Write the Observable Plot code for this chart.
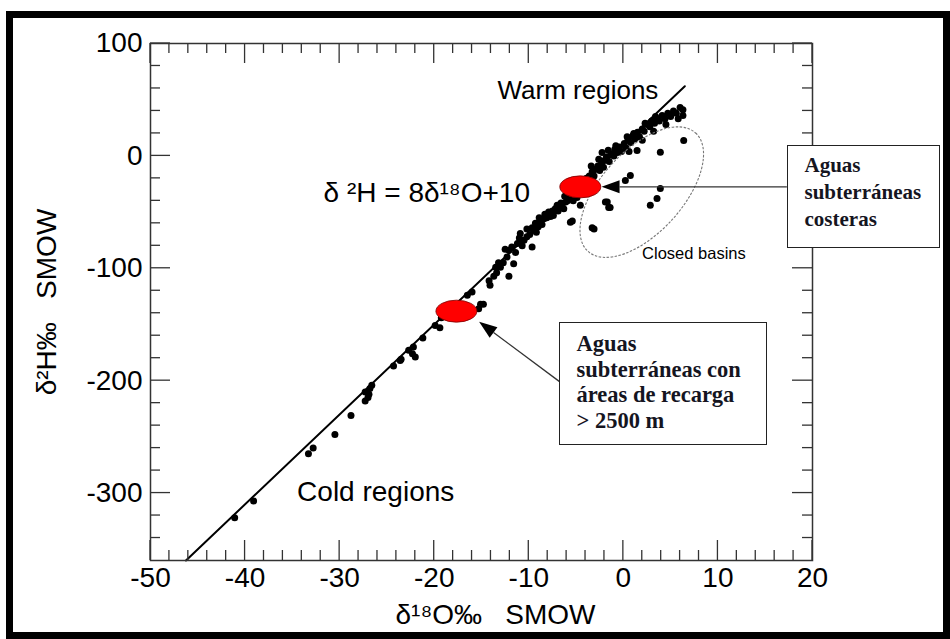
<!DOCTYPE html>
<html><head><meta charset="utf-8">
<script src="https://cdn.jsdelivr.net/npm/d3@7"></script>
<script src="https://cdn.jsdelivr.net/npm/@observablehq/plot@0.6"></script>
<style>
html,body{margin:0;padding:0;background:#fff;}
#wrap{position:relative;width:950px;height:639px;overflow:hidden;background:#fff;}
#wrap svg{position:absolute;left:0;top:0;}
.border{position:absolute;left:6px;top:11px;width:944px;height:628px;box-sizing:border-box;border:7px solid #000;pointer-events:none;}
.box{position:absolute;background:#fff;border:1.5px solid #222;box-sizing:border-box;font-family:"Liberation Serif","Times New Roman",serif;font-weight:bold;color:#15151f;white-space:nowrap;}
</style></head><body><div id="wrap"></div>
<script>
// ---- data (δ18O ‰, δ2H ‰ SMOW) ----
const d18O = [
  -41.1,-39.1,-33.3,-32.8,-30.5,-28.8,-27.3,-27.3,-26.8,-26.9,-26.6,-27.0,-24.3,-23.5,-22.7,-22.0,-21.2,-19.9,-19.4,
  -23.6,-22.3,-22.2,-19.25,-16.5,-16.0,-15.1,-14.8,-15.3,-14.2,-14.1,-13.7,-13.4,-13.0,-13.5,-13.2,-12.7,-12.3,-11.6,-12.1,
  -12.1,-12.5,-11.8,-11.4,-11.2,-10.9,-10.7,-10.5,-10.2,-9.65,-10.9,-10.2,-9.9,-9.65,-9.5,-9.3,-9.2,-9.0,-8.9,-8.8,-8.6,
  -8.4,-8.1,-8.0,-7.9,-7.7,-7.5,-7.4,-7.2,-7.0,-6.9,-6.8,-6.6,-6.5,-6.3,-6.1,-5.9,-5.8,-5.6,-5.3,-4.9,
  -4.55,-5.4,-5.6,-3.3,-3.1,-1.9,-1.7,-1.55,-1.4,0.21,0.74,1.45,2.85,3.56,3.91,3.91,6.38,
  -4.2,-3.9,-3.6,-3.8,-3.3,-3.0,-3.1,-2.7,-2.5,-2.3,-2.25,-2.1,-2.0,-1.8,-1.5,-1.3,-1.0,-0.9,-0.6,-0.4,-0.2,
  0.1,0.3,0.5,0.6,0.8,1.0,1.2,1.5,1.7,2.0,2.0,2.2,2.5,2.8,3.0,3.2,3.3,3.6,3.8,4.1,4.4,4.5,4.7,5.0,5.3,5.6,5.8,6.0,6.3,6.3,
  -3.4,-2.6,-1.6,-0.8,0.4,1.1,2.3,3.4,-6.2,-8.3,-11.0
];
const d2H = [
  -322,-307,-265,-260,-248,-231,-218,-210,-207,-212,-204,-215,-187,-181,-173,-179,-162,-151,-153,
  -182,-176,-170,-144,-124,-121,-132,-132,-136,-111,-115,-107,-104,-99,-99,-95,-95,-90,-96,-84,
  -107,-83,-81,-86,-78,-75,-80,-75,-72,-81,-69,-65,-70,-64,-66,-60,-68,-63,-55,-59,-61,
  -56,-55,-52,-50,-54,-49,-53,-47,-44,-49,-46,-42,-44,-47,-41,-40,-35,-38,-40,-37,
  -44,-58,-59,-64,-65,-41,-41,-46,-46,-22,-17.5,4.7,-44,-38,-29,3.2,13.6,
  -22,-20,-18,-25,-14,-12,-18,-9,-13,-6,3,-10,-4,-1,-5,2,0,6,3,8,4,
  11,7,14,4,12,18,15,21,17,24,14,22,28,26,31,22,29,33,31,36,33,28,38,35,40,38,33,43,41,36,
  -9,-3,5,9,17,20,29,35,-36,-52,-73
];
const points = d18O.map((o, i) => ({o, h: d2H[i]}));

// Global meteoric water line δ2H = 8·δ18O + 10, drawn between these δ18O ends
const gmwlEnds = [-46.25, 6.5];
const gmwl = gmwlEnds.map(o => ({o, h: 8 * o + 10}));

// axis ticks
const xMajor = [-50,-40,-30,-20,-10,0,10,20];
const xMinor = [-48,-46,-44,-42,-38,-36,-34,-32,-28,-26,-24,-22,-18,-16,-14,-12,-8,-6,-4,-2,2,4,6,8,12,14,16,18];
const yMajor = [-300,-200,-100,0,100];
const yMinor = [-340,-320,-280,-260,-240,-220,-180,-160,-140,-120,-80,-60,-40,-20,20,40,60,80];

// annotations (data coordinates)
const redSpotO = [-4.5, -17.6];
const redSpotH = [-28, -138.6];
const arrowFromO = [17.34, -6.66], arrowFromH = [-28, -201.5];
const arrowToO = [-2.25, -15.2], arrowToH = [-28, -148.1];
const basinCenter = {o: 2.0, h: -32.7};
const warmNote = [{o: 3.7, h: 51, t: "Warm regions"}];
const coldNote = [{o: -34.5, h: -306.9, t: "Cold regions"}];
const eqNote = [{o: -31.7, h: -40.7, t: "δ ²H = 8δ¹⁸O+10"}];
const basinNote = [{o: 1.98, h: -91.4, t: "Closed basins"}];

const sans = "'Liberation Sans',Arial,Helvetica,sans-serif";
const axisStroke = "#333";

function overlay(index, scales) {
  const {x, y} = scales;
  const g = d3.create("svg:g");
  // closed basins dashed ellipse
  g.append("ellipse")
    .attr("cx", 0).attr("cy", 0).attr("rx", 80).attr("ry", 41)
    .attr("transform", `translate(${x(basinCenter.o)},${y(basinCenter.h)}) rotate(-47.7)`)
    .attr("fill", "none").attr("stroke", "#777").attr("stroke-width", 1.1)
    .attr("stroke-dasharray", "2.5,1.5");
  // red spots
  redSpotO.forEach((o, i) => {
    g.append("ellipse").attr("cx", x(o)).attr("cy", y(redSpotH[i]))
      .attr("rx", 20.5).attr("ry", 11).attr("fill", "#ff0000")
      .attr("stroke", "#7a0000").attr("stroke-width", 0.8);
  });
  // arrows with filled heads
  arrowFromO.forEach((o, i) => {
    const x1 = x(o), y1 = y(arrowFromH[i]), x2 = x(arrowToO[i]), y2 = y(arrowToH[i]);
    const a = Math.atan2(y2 - y1, x2 - x1), L = 18, W = 6.5;
    const bx = x2 - L * Math.cos(a), by = y2 - L * Math.sin(a);
    g.append("line").attr("x1", x1).attr("y1", y1).attr("x2", bx).attr("y2", by)
      .attr("stroke", "#333").attr("stroke-width", 1.3);
    const px = -Math.sin(a) * W, py = Math.cos(a) * W;
    g.append("path").attr("d", `M${x2},${y2}L${bx + px},${by + py}L${bx - px},${by - py}Z`)
      .attr("fill", "#000");
  });
  return g.node();
}

// inward ticks on all four sides, placed with the plot's x / y scales
function inwardTicks(index, scales, values, dims) {
  const {x, y} = scales;
  const top = dims.marginTop, bottom = dims.height - dims.marginBottom;
  const left = dims.marginLeft, right = dims.width - dims.marginRight;
  const g = d3.create("svg:g").attr("stroke", axisStroke).attr("stroke-width", 1.3);
  const seg = (x1, y1, x2, y2) => g.append("line").attr("x1", x1).attr("y1", y1).attr("x2", x2).attr("y2", y2);
  [[xMinor, 10], [xMajor, 20]].forEach(([ticks, len]) => ticks.forEach(t => {
    const p = x(t); seg(p, bottom, p, bottom - len); seg(p, top, p, top + len);
  }));
  [[yMinor, 10], [yMajor, 20]].forEach(([ticks, len]) => ticks.forEach(t => {
    const p = y(t); seg(left, p, left + len, p); seg(right, p, right - len, p);
  }));
  return g.node();
}

const chart = Plot.plot({
  width: 950, height: 639,
  marginLeft: 150, marginRight: 138, marginTop: 43, marginBottom: 79,
  x: {domain: [-50, 20], label: null},
  y: {domain: [-360, 100], label: null},
  style: {background: "transparent", color: "#000", fontFamily: sans},
  marks: [
    Plot.line(gmwl, {x: "o", y: "h", stroke: "#000", strokeWidth: 2}),
    Plot.dot(points, {x: "o", y: "h", r: 3.5, fill: "#000", stroke: "none"}),
    overlay,
    inwardTicks,
    Plot.frame({stroke: axisStroke, strokeWidth: 1.5}),
    Plot.axisX({anchor: "bottom", ticks: xMajor, tickSize: 0, tickPadding: 7, tickFormat: d => String(d),
      fontSize: 28, fontFamily: sans, fill: "#000", label: null}),
    Plot.axisY({anchor: "left", ticks: yMajor, tickSize: 0, tickPadding: 8, tickFormat: d => String(d),
      fontSize: 28, fontFamily: sans, fill: "#000", label: null}),
    Plot.text(warmNote, {x: "o", y: "h", text: "t", textAnchor: "end", lineAnchor: "bottom",
      fontSize: 26, fontFamily: sans, fill: "#000"}),
    Plot.text(coldNote, {x: "o", y: "h", text: "t", textAnchor: "start", lineAnchor: "bottom",
      fontSize: 28, fontFamily: sans, fill: "#000"}),
    Plot.text(eqNote, {x: "o", y: "h", text: "t", textAnchor: "start", lineAnchor: "bottom",
      fontSize: 28, fontFamily: sans, fill: "#000"}),
    Plot.text(basinNote, {x: "o", y: "h", text: "t", textAnchor: "start", lineAnchor: "bottom",
      fontSize: 16.5, fontFamily: sans, fill: "#000"}),
    Plot.text(["δ¹⁸O‰\u00a0\u00a0\u00a0SMOW"], {frameAnchor: "bottom", dx: 14, dy: 63, lineAnchor: "bottom",
      textAnchor: "middle", fontSize: 28, fontFamily: sans, fill: "#000"}),
    Plot.text(["δ²H‰\u00a0\u00a0\u00a0SMOW"], {frameAnchor: "left", dx: -103, rotate: -90, lineAnchor: "middle",
      textAnchor: "middle", fontSize: 28, fontFamily: sans, fill: "#000"})
  ]
});

const wrap = document.getElementById("wrap");
wrap.appendChild(chart);

function addBox(lines, left, top, width, height, fontSize, lineHeight, padTop, padLeft) {
  const div = document.createElement("div");
  div.className = "box";
  Object.assign(div.style, {left: left + "px", top: top + "px", width: width + "px", height: height + "px",
    fontSize: fontSize + "px", lineHeight: lineHeight + "px", paddingTop: padTop + "px", paddingLeft: padLeft + "px"});
  lines.forEach((t, i) => {
    if (i) div.appendChild(document.createElement("br"));
    div.appendChild(document.createTextNode(t));
  });
  wrap.appendChild(div);
}
const coastalLines = ["Aguas", "subterráneas", "costeras"];
const rechargeLines = ["Aguas", "subterráneas con", "áreas de recarga", "> 2500 m"];
addBox(coastalLines, 787, 145, 153, 103, 21, 27, 6, 16.5);
addBox(rechargeLines, 559, 322, 208, 123, 22.5, 25.5, 8, 16.5);

const border = document.createElement("div");
border.className = "border";
wrap.appendChild(border);
</script></body></html>
